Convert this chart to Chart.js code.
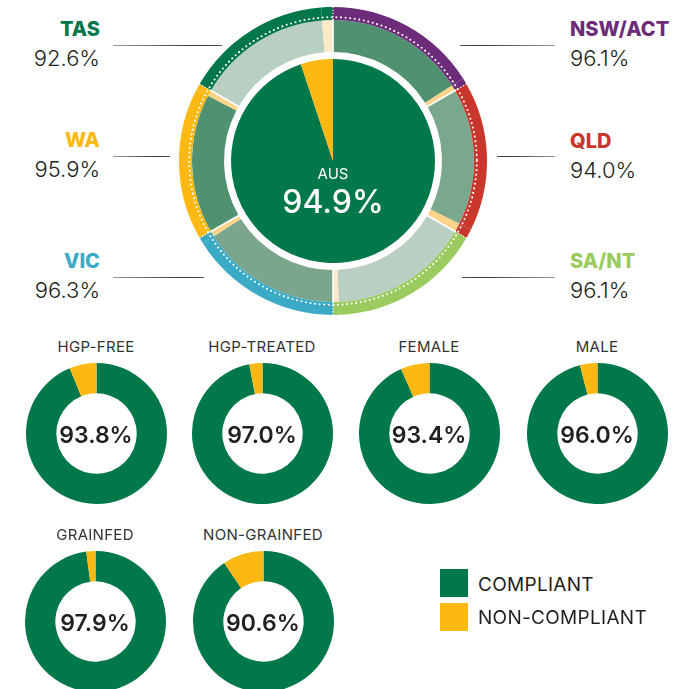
<!DOCTYPE html>
<html>
<head>
<meta charset="utf-8">
<script src="https://cdn.jsdelivr.net/npm/chart.js@4.4.1/dist/chart.umd.min.js"></script>
<style>
  html, body { margin: 0; padding: 0; background: #fff; }
  #wrap { position: relative; width: 699px; height: 689px; overflow: hidden; font-family: Inter, "Open Sans", sans-serif; }
  canvas { position: absolute; }
  .t { position: absolute; line-height: 1; white-space: nowrap; }
  .ln { position: absolute; height: 1px; }
</style>
</head>
<body>
<div id="wrap"></div>
<script>
// ---------- DATA ----------
const states = ['NSW/ACT', 'QLD', 'SA/NT', 'VIC', 'WA', 'TAS'];
const stateCompliance = [96.1, 94.0, 96.1, 96.3, 95.9, 92.6];
const nationalLabel = 'AUS';
const nationalCompliance = 94.9;
const groups = ['HGP-FREE', 'HGP-TREATED', 'FEMALE', 'MALE', 'GRAINFED', 'NON-GRAINFED'];
const groupCompliance = [93.8, 97.0, 93.4, 96.0, 97.9, 90.6];
const legendLabels = ['COMPLIANT', 'NON-COMPLIANT'];

// ---------- STYLES ----------
const GREEN = '#00784A';
const YELLOW = '#FDB913';
const stateColors = ['#6D2C79', '#C9372C', '#9BCB5E', '#3AAAC7', '#FDB913', '#00774A'];
const ringColors = ['#4F9170', '#7AA88F', '#B8CFC1', '#7BA68D', '#4F9170', '#B8CFC1'];
const sliverColors = ['#FDD38A', '#FDD38A', '#FDE8C8', '#FDD38A', '#FDD38A', '#FDE8C8'];
const TEXT = '#231F20';

const wrap = document.getElementById('wrap');
function addText(txt, opts) {
  const d = document.createElement('div');
  d.className = 't';
  d.textContent = txt;
  const s = d.style;
  s.fontSize = opts.size + 'px';
  s.fontWeight = opts.weight || 400;
  s.color = opts.color || TEXT;
  if (opts.ls) s.letterSpacing = opts.ls + 'px';
  s.top = opts.y + 'px';
  if (opts.align === 'right') { s.right = (699 - opts.x) + 'px'; s.transform = 'translateY(-50%)'; }
  else if (opts.align === 'center') { s.left = opts.x + 'px'; s.transform = 'translate(-50%,-50%)'; }
  else { s.left = opts.x + 'px'; s.transform = 'translateY(-50%)'; }
  wrap.appendChild(d);
  return d;
}
function addLine(x1, x2, y, dir) {
  const d = document.createElement('div');
  d.className = 'ln';
  d.style.left = x1 + 'px';
  d.style.width = (x2 - x1) + 'px';
  d.style.top = y + 'px';
  d.style.background = dir === 'r'
    ? 'linear-gradient(to right, #9a9a9a, #333 80%, #555)'
    : 'linear-gradient(to left, #9a9a9a, #333 80%, #555)';
  wrap.appendChild(d);
}
function addCanvas(cx, cy, size) {
  const c = document.createElement('canvas');
  c.width = size; c.height = size;
  c.style.width = size + 'px'; c.style.height = size + 'px';
  c.style.left = (cx - size / 2) + 'px';
  c.style.top = (cy - size / 2) + 'px';
  wrap.appendChild(c);
  return c;
}

// ---------- BIG STATE CHART ----------
const BIG_CX = 333, BIG_CY = 161, BIG_SIZE = 308;
const pairs = stateCompliance.flatMap(p => [p, +(100 - p).toFixed(1)]);
const bandBg = states.flatMap((s, i) => [stateColors[i], stateColors[i]]);
const ringBg = states.flatMap((s, i) => [ringColors[i], sliverColors[i]]);

const decoPlugin = {
  id: 'deco',
  afterDatasetsDraw(chart) {
    const ctx = chart.ctx;
    const band = chart.getDatasetMeta(0).data;
    const ring = chart.getDatasetMeta(1).data;
    const x = band[0].x, y = band[0].y;
    ctx.save();
    // state separators
    for (let i = 1; i < ring.length; i += 2) {
      const a = ring[i].endAngle;
      const c = Math.cos(a), s = Math.sin(a);
      ctx.strokeStyle = '#fff';
      ctx.lineWidth = 1.6;
      ctx.setLineDash([]);
      ctx.beginPath();
      ctx.moveTo(x + c * (ring[i].innerRadius - 1), y + s * (ring[i].innerRadius - 1));
      ctx.lineTo(x + c * (ring[i].outerRadius + 1), y + s * (ring[i].outerRadius + 1));
      ctx.stroke();
      ctx.lineWidth = 1.2;
      ctx.setLineDash([1.2, 1.8]);
      ctx.beginPath();
      ctx.moveTo(x + c * band[i].innerRadius, y + s * band[i].innerRadius);
      ctx.lineTo(x + c * (band[i].outerRadius + 1), y + s * (band[i].outerRadius + 1));
      ctx.stroke();
    }
    // dotted ring inside the coloured band
    ctx.strokeStyle = '#fff';
    ctx.lineWidth = 2.1;
    ctx.lineCap = 'round';
    ctx.setLineDash([0, 4.6]);
    ctx.beginPath();
    ctx.arc(x, y, band[0].innerRadius + 2.8, 0, Math.PI * 2);
    ctx.stroke();
    ctx.restore();
  }
};

new Chart(addCanvas(BIG_CX, BIG_CY, BIG_SIZE), {
  type: 'doughnut',
  data: {
    labels: states.flatMap(s => [s + ' compliant', s + ' non-compliant']),
    datasets: [
      { data: pairs, backgroundColor: bandBg, borderWidth: 0, weight: 13 },
      { data: pairs, backgroundColor: ringBg, borderWidth: 0, weight: 32 },
      { data: [100], backgroundColor: ['rgba(0,0,0,0)'], borderWidth: 0, weight: 7 },
      { data: [nationalCompliance, +(100 - nationalCompliance).toFixed(1)], backgroundColor: [GREEN, YELLOW], borderWidth: 0, weight: 102 }
    ]
  },
  options: {
    responsive: false,
    animation: false,
    events: [],
    cutout: 0,
    plugins: { legend: { display: false }, tooltip: { enabled: false } }
  },
  plugins: [decoPlugin]
});

addText(nationalLabel, { x: BIG_CX, y: 173, size: 15, weight: 400, color: '#fff', align: 'center' });
addText(nationalCompliance.toFixed(1) + '%', { x: BIG_CX, y: 202, size: 32, weight: 500, color: '#fff', align: 'center' });

// state labels
const labelPos = [
  { x: 570, y: 29, align: 'left', line: [460, 555, 45] },
  { x: 570, y: 140.5, align: 'left', line: [497, 555, 156] },
  { x: 570, y: 260.5, align: 'left', line: [462, 555, 277] },
  { x: 100, y: 289.5 - 29, align: 'right', line: [113, 204, 277] },
  { x: 100, y: 140, align: 'right', line: [113, 170, 156] },
  { x: 100, y: 29, align: 'right', line: [113, 222, 45] }
];
states.forEach((s, i) => {
  const p = labelPos[i];
  addText(s, { x: p.x, y: p.y, size: 20, weight: 800, color: stateColors[i], align: p.align });
  addText(stateCompliance[i].toFixed(1) + '%', { x: p.x, y: p.y + 29, size: 22, weight: 300, color: TEXT, align: p.align });
  addLine(p.line[0], p.line[1], p.line[2], p.align === 'right' ? 'r' : 'l');
});

// ---------- SMALL DONUTS ----------
const smallPos = [[96, 433], [262, 433], [429, 433], [597, 433], [95, 621], [263, 621]];
groups.forEach((g, i) => {
  const [cx, cy] = smallPos[i];
  new Chart(addCanvas(cx, cy, 141), {
    type: 'doughnut',
    data: {
      labels: legendLabels,
      datasets: [{ data: [groupCompliance[i], +(100 - groupCompliance[i]).toFixed(1)], backgroundColor: [GREEN, YELLOW], borderWidth: 0 }]
    },
    options: {
      responsive: false, animation: false, events: [], cutout: '57%',
      plugins: { legend: { display: false }, tooltip: { enabled: false } }
    }
  });
  addText(g, { x: cx, y: cy - 87, size: 15, weight: 400, color: '#333', align: 'center', ls: 0.3 });
  addText(groupCompliance[i].toFixed(1) + '%', { x: cx, y: cy + 1.5, size: 23, weight: 600, color: TEXT, align: 'center' });
});

// ---------- LEGEND ----------
const legendColors = [GREEN, YELLOW];
legendLabels.forEach((l, i) => {
  const sq = document.createElement('div');
  sq.style.cssText = 'position:absolute;left:440px;width:28px;height:28px;background:' + legendColors[i] + ';top:' + (569 + i * 34) + 'px';
  wrap.appendChild(sq);
  addText(l, { x: 478, y: 584 + i * 33, size: 19, weight: 400, color: TEXT, align: 'left', ls: 0.3 });
});
</script>
</body>
</html>
